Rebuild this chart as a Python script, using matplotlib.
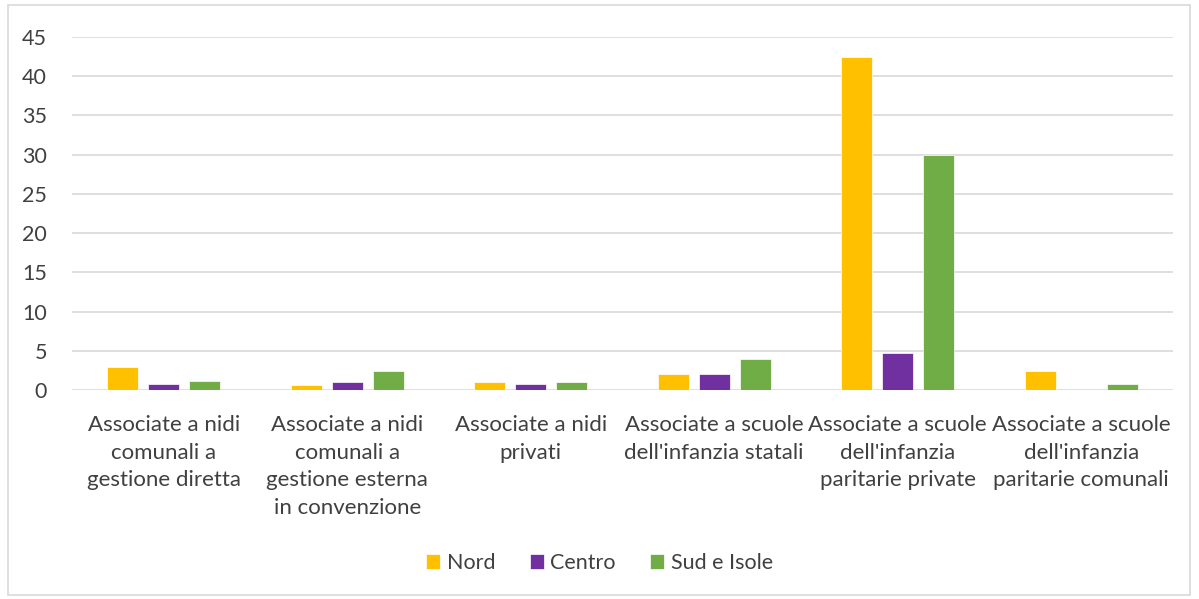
import matplotlib.pyplot as plt
import numpy as np
from matplotlib.patches import Rectangle

categories = [
    "Associate a nidi\ncomunali a\ngestione diretta",
    "Associate a nidi\ncomunali a\ngestione esterna\nin convenzione",
    "Associate a nidi\nprivati",
    "Associate a scuole\ndell'infanzia statali",
    "Associate a scuole\ndell'infanzia\nparitarie private",
    "Associate a scuole\ndell'infanzia\nparitarie comunali",
]
nord = [2.9, 0.6, 1.0, 2.0, 42.4, 2.4]
centro = [0.8, 1.0, 0.8, 2.1, 4.7, 0.0]
sud = [1.1, 2.4, 1.0, 4.0, 30.0, 0.8]
series_names = ["Nord", "Centro", "Sud e Isole"]
colors = ["#FFC000", "#7030A0", "#70AD47"]
yticks = [0, 5, 10, 15, 20, 25, 30, 35, 40, 45]

plt.rcParams["font.family"] = ["Lato", "DejaVu Sans"]

fig = plt.figure(figsize=(11.99, 5.99), dpi=100)
ax = fig.add_axes([72 / 1199, 1 - 390 / 599, 1101 / 1199, 353 / 599])

# outer chart frame
fig.patches.append(Rectangle((8 / 1199, 4 / 599), 1182 / 1199, 590 / 599,
                             transform=fig.transFigure, fill=False,
                             edgecolor="#D9D9D9", linewidth=1.2))

x = np.arange(len(categories))
width = 0.17
step = 0.223
for i, (vals, name, c) in enumerate(zip([nord, centro, sud], series_names, colors)):
    vals_arr = np.array(vals)
    mask = vals_arr > 0
    ax.bar(x[mask] + (i - 1) * step, vals_arr[mask], width, color=c, label=name,
           edgecolor="white", linewidth=0.5, zorder=3)

ax.set_xlim(-0.5, len(categories) - 0.5)
ax.set_ylim(0, 45)
ax.set_yticks(yticks)
ax.set_xticks(x)
ax.set_xticklabels(categories, fontsize=16, color="#404040", linespacing=1.47)
ax.tick_params(axis="y", labelsize=15.5, labelcolor="#404040", length=0, pad=18)
ax.tick_params(axis="x", length=0, pad=18)
ax.grid(axis="y", color="#D9D9D9", linewidth=1.2, zorder=0)
for s in ax.spines.values():
    s.set_visible(False)

handles, labels = ax.get_legend_handles_labels()
fig.legend(handles, labels, loc="center", bbox_to_anchor=(0.5, 1 - 563 / 599),
           ncol=3, frameon=False, fontsize=15.5, handlelength=0.65, handleheight=0.65,
           handletextpad=0.3, columnspacing=1.6, labelcolor="#404040")

plt.savefig("out.png", dpi=100)
plt.close()
